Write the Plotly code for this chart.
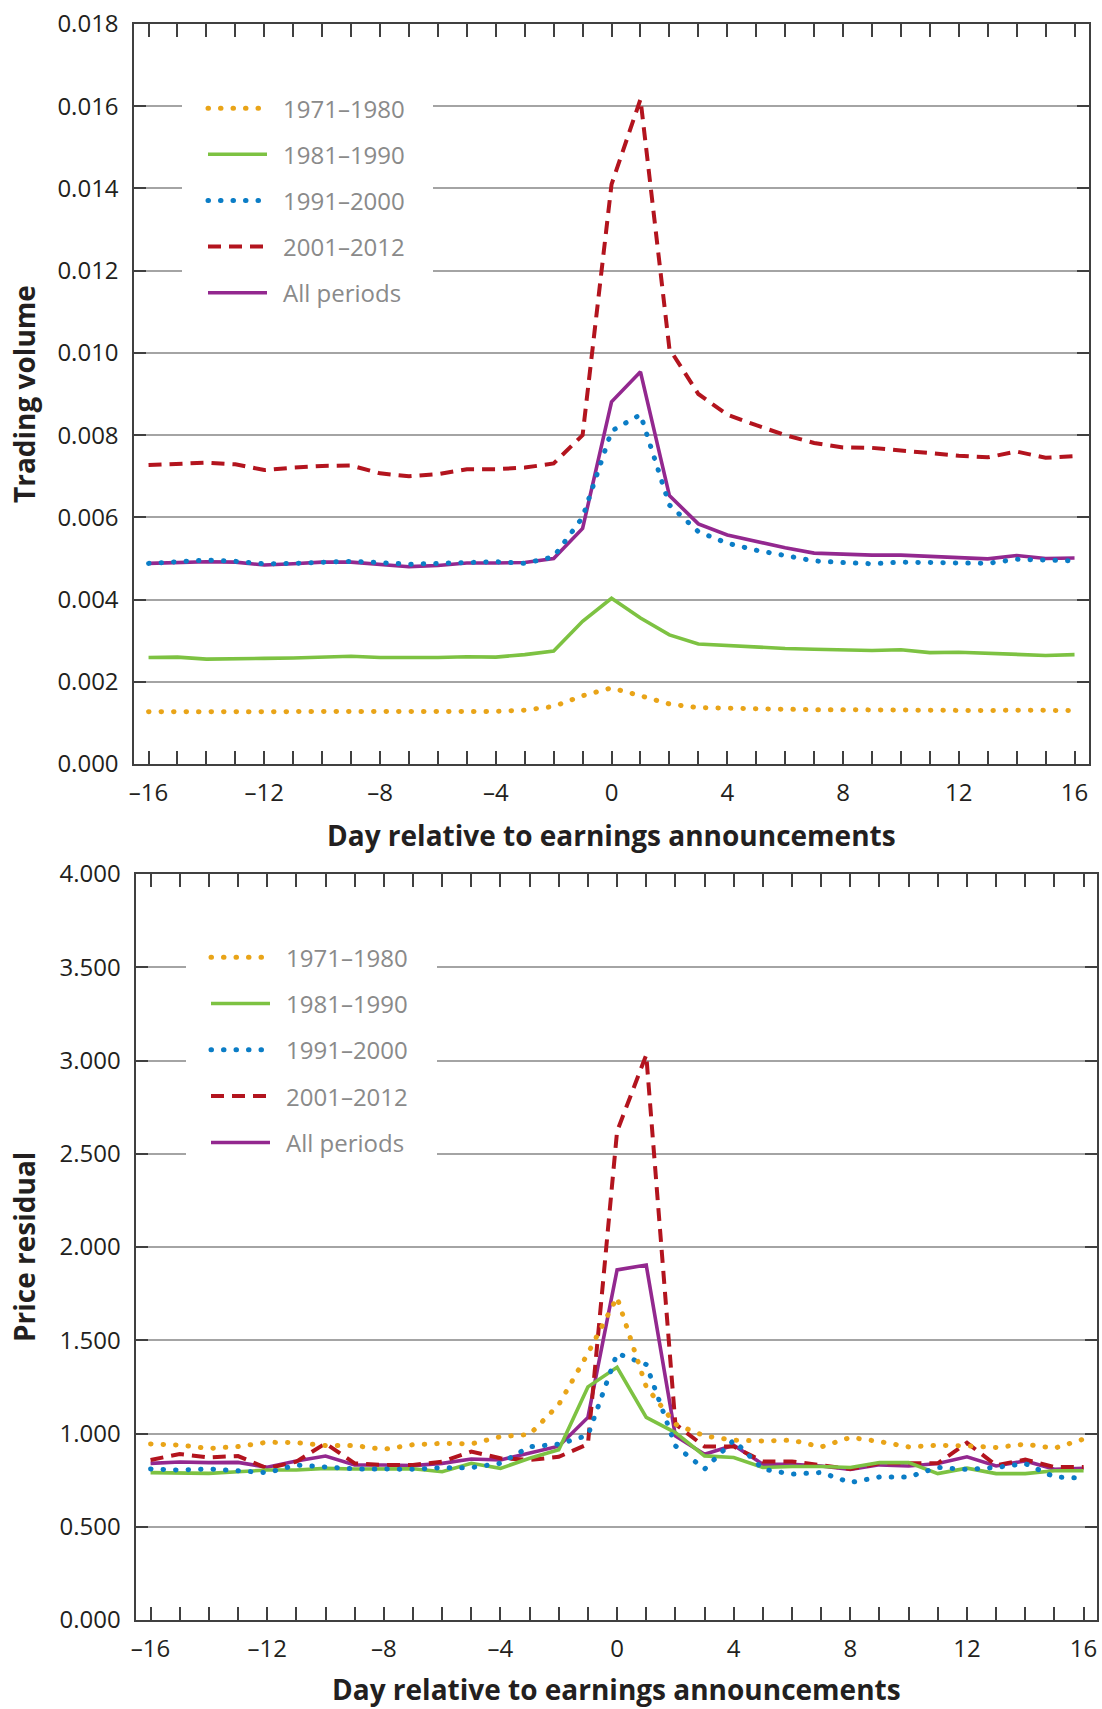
import plotly.graph_objects as go

# ---- data -------------------------------------------------------------
days = list(range(-16, 17))
x_tick_text = ["\u201316", "", "", "", "\u201312", "", "", "", "\u20138", "", "", "", "\u20134", "", "", "",
               "0", "", "", "", "4", "", "", "", "8", "", "", "", "12", "", "", "", "16"]

series_names = ["1971\u20131980", "1981\u20131990", "1991\u20132000", "2001\u20132012", "All periods"]

# trading volume around earnings announcements
tv_1971 = [0.00127, 0.00127, 0.00127, 0.00126, 0.00127, 0.00127, 0.00127, 0.00127, 0.00127, 0.00127,
           0.00127, 0.00128, 0.00128, 0.00131, 0.00140, 0.00166, 0.00185, 0.00166, 0.00146, 0.00137,
           0.00135, 0.00134, 0.00133, 0.00132, 0.00132, 0.00131, 0.00131, 0.00130, 0.00130, 0.00130,
           0.00131, 0.00131, 0.00130]
tv_1981 = [0.00259, 0.00260, 0.00255, 0.00257, 0.00257, 0.00258, 0.00261, 0.00262, 0.00259, 0.00258,
           0.00259, 0.00261, 0.00260, 0.00266, 0.00275, 0.00347, 0.00403, 0.00355, 0.00314, 0.00292,
           0.00288, 0.00283, 0.00281, 0.00279, 0.00278, 0.00276, 0.00278, 0.00271, 0.00272, 0.00270,
           0.00267, 0.00264, 0.00266]
tv_1991 = [0.00488, 0.00493, 0.00496, 0.00493, 0.00487, 0.00488, 0.00491, 0.00493, 0.00490, 0.00486,
           0.00488, 0.00491, 0.00492, 0.00488, 0.00504, 0.00600, 0.00810, 0.00850, 0.00630, 0.00565,
           0.00537, 0.00520, 0.00506, 0.00494, 0.00490, 0.00487, 0.00491, 0.00491, 0.00491, 0.00488,
           0.00498, 0.00496, 0.00494]
tv_2001 = [0.00727, 0.00731, 0.00733, 0.00729, 0.00715, 0.00721, 0.00725, 0.00726, 0.00707, 0.00700,
           0.00705, 0.00717, 0.00717, 0.00721, 0.00731, 0.00800, 0.01410, 0.01617, 0.01010, 0.00900,
           0.00850, 0.00824, 0.00800, 0.00781, 0.00770, 0.00769, 0.00762, 0.00755, 0.00750, 0.00746,
           0.00760, 0.00745, 0.00749]
tv_all = [0.00488, 0.00491, 0.00492, 0.00491, 0.00484, 0.00487, 0.00491, 0.00491, 0.00485, 0.00480,
          0.00483, 0.00489, 0.00489, 0.00490, 0.00500, 0.00573, 0.00881, 0.00954, 0.00653, 0.00584,
          0.00557, 0.00541, 0.00526, 0.00513, 0.00510, 0.00508, 0.00508, 0.00504, 0.00502, 0.00499,
          0.00507, 0.00500, 0.00501]

# price residual around earnings announcements
pr_1971 = [0.944, 0.938, 0.920, 0.930, 0.953, 0.951, 0.935, 0.935, 0.915, 0.940,
           0.947, 0.944, 0.983, 0.995, 1.155, 1.430, 1.730, 1.250, 1.050, 0.987,
           0.964, 0.960, 0.964, 0.928, 0.979, 0.957, 0.928, 0.937, 0.934, 0.925,
           0.943, 0.921, 0.970]
pr_1981 = [0.790, 0.790, 0.786, 0.795, 0.804, 0.804, 0.813, 0.810, 0.811, 0.811,
           0.795, 0.840, 0.813, 0.867, 0.913, 1.250, 1.355, 1.086, 1.005, 0.880,
           0.871, 0.818, 0.823, 0.823, 0.818, 0.844, 0.844, 0.785, 0.814, 0.785,
           0.785, 0.800, 0.800]
pr_1991 = [0.810, 0.804, 0.810, 0.800, 0.790, 0.831, 0.822, 0.810, 0.810, 0.808,
           0.817, 0.817, 0.840, 0.929, 0.943, 0.990, 1.430, 1.370, 0.934, 0.809,
           0.964, 0.809, 0.782, 0.791, 0.737, 0.767, 0.767, 0.818, 0.807, 0.818,
           0.839, 0.767, 0.760]
pr_2001 = [0.858, 0.890, 0.872, 0.879, 0.813, 0.849, 0.947, 0.840, 0.831, 0.831,
           0.849, 0.903, 0.867, 0.858, 0.875, 0.943, 2.620, 3.030, 1.050, 0.930,
           0.930, 0.850, 0.850, 0.830, 0.810, 0.840, 0.840, 0.840, 0.950, 0.830,
           0.860, 0.820, 0.820]
pr_all = [0.840, 0.847, 0.844, 0.845, 0.819, 0.853, 0.879, 0.831, 0.831, 0.828,
          0.840, 0.863, 0.858, 0.897, 0.932, 1.086, 1.877, 1.903, 0.987, 0.889,
          0.937, 0.835, 0.835, 0.826, 0.808, 0.832, 0.826, 0.839, 0.875, 0.826,
          0.853, 0.808, 0.814]

# ---- styling ----------------------------------------------------------
W, H = 1102, 1709
colors = ["#E9A418", "#7DC242", "#0B7DC6", "#B3141E", "#93288F"]
DOT = "0.5px,12px"          # round-capped dots (see post script)
DASH = "13px,8px"
dashes = [DOT, "solid", DOT, DASH, "solid"]
widths = [5, 3.6, 5, 4, 3.6]
draw_order = [4, 3, 1, 2, 0]

FONT = "Open Sans"
TXT = "#231f20"
AX = "#404040"
GRID = "#a4a4a4"


def px_x(p):
    return p / W


def px_y(p):
    return 1 - p / H


fig = go.Figure()

panels = [
    dict(x="x", y="y", data=[tv_1971, tv_1981, tv_1991, tv_2001, tv_all]),
    dict(x="x2", y="y2", data=[pr_1971, pr_1981, pr_1991, pr_2001, pr_all]),
]
for pnl in panels:
    for i in draw_order:
        fig.add_trace(go.Scatter(
            x=days, y=pnl["data"][i], mode="lines", name=series_names[i],
            xaxis=pnl["x"], yaxis=pnl["y"], showlegend=False,
            line=dict(color=colors[i], width=widths[i], dash=dashes[i]),
            hoverinfo="skip",
        ))

xcommon = dict(
    tickmode="array", tickvals=days, ticktext=x_tick_text,
    ticks="inside", ticklen=13, tickwidth=2, tickcolor=AX,
    showline=True, linecolor=AX, linewidth=2.2, mirror="ticks",
    showgrid=False, zeroline=False, ticklabelstandoff=6, automargin=False,
    tickfont=dict(family=FONT, size=24, color=TXT),
)
ycommon = dict(
    ticks="inside", ticklen=12, tickwidth=2, tickcolor=AX,
    showline=True, linecolor=AX, linewidth=2.2, mirror="ticks",
    showgrid=True, gridcolor=GRID, gridwidth=1.6, zeroline=False,
    tickformat=".3f", ticklabelstandoff=8, automargin=False,
    tickfont=dict(family=FONT, size=24, color=TXT),
)

fig.update_layout(
    template="none",
    width=W, height=H, margin=dict(l=0, r=0, t=0, b=0, autoexpand=False),
    paper_bgcolor="white", plot_bgcolor="white", showlegend=False,
    xaxis=dict(xcommon, domain=[px_x(133.5), px_x(1089)], range=[-16.52, 16.5], anchor="y"),
    yaxis=dict(ycommon, domain=[px_y(764), px_y(24)], range=[0, 0.018], dtick=0.002, anchor="x"),
    xaxis2=dict(xcommon, domain=[px_x(135.7), px_x(1097)], range=[-16.51, 16.46], anchor="y2"),
    yaxis2=dict(ycommon, domain=[px_y(1620), px_y(874)], range=[0, 4], dtick=0.5, anchor="x2"),
)

# axis titles
title_font = dict(family=FONT, size=28, color=TXT, weight="bold")
axis_titles = [
    ("Trading volume", 24, 394, -90),
    ("Price residual", 24, 1247, -90),
    ("Day relative to earnings announcements", 611, 835, 0),
    ("Day relative to earnings announcements", 616, 1689, 0),
]
for text, ax_, ay_, ang in axis_titles:
    fig.add_annotation(text=text, xref="paper", yref="paper", x=px_x(ax_), y=px_y(ay_),
                       xanchor="center", yanchor="middle", textangle=ang,
                       showarrow=False, font=title_font)

# in-plot legends: white panel over the gridlines, sample lines and labels
legend_boxes = [
    dict(box=(182, 84, 433, 316), rows=[108.3, 154.3, 200.5, 246.6, 292.7], line=(208, 267), text_x=281),
    dict(box=(186, 934, 437, 1176), rows=[957.3, 1003.5, 1049.8, 1096.0, 1142.5], line=(211, 270), text_x=284),
]
for lg in legend_boxes:
    x0, y0, x1, y1 = lg["box"]
    fig.add_shape(type="rect", xref="paper", yref="paper",
                  x0=px_x(x0), x1=px_x(x1), y0=px_y(y1), y1=px_y(y0),
                  fillcolor="white", line=dict(width=0), layer="above")
    for i, yy in enumerate(lg["rows"]):
        fig.add_shape(type="line", xref="paper", yref="paper",
                      x0=px_x(lg["line"][0]), x1=px_x(lg["line"][1]), y0=px_y(yy), y1=px_y(yy),
                      line=dict(color=colors[i], width=widths[i], dash=dashes[i]), layer="above")
        fig.add_annotation(text=series_names[i], xref="paper", yref="paper",
                           x=px_x(lg["text_x"]), y=px_y(yy), xanchor="left", yanchor="middle",
                           showarrow=False, font=dict(family=FONT, size=24, color="#8a8a8a"))

# give the dotted strokes round caps so each dash renders as a dot
post = """
var gd = document.getElementById('{plot_id}');
function roundDots(){
  gd.querySelectorAll('path').forEach(function(p){
    var d = p.style.strokeDasharray || '';
    if (d.indexOf('12px') !== -1) { p.style.strokeLinecap = 'round'; }
  });
}
roundDots();
gd.on('plotly_afterplot', roundDots);
"""

fig.write_html("out.html", post_script=post)
